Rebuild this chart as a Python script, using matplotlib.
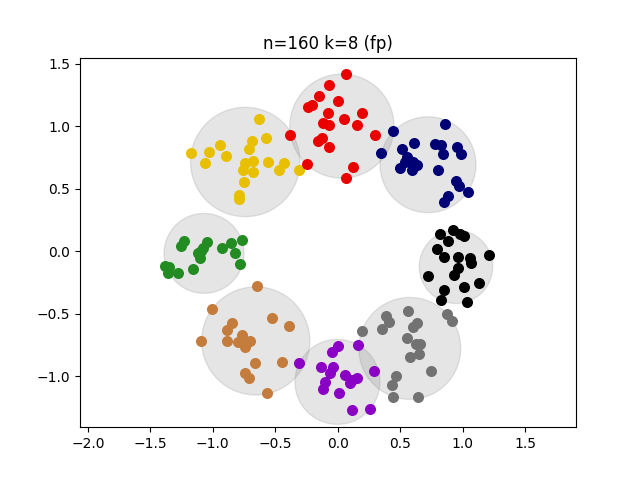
import matplotlib
matplotlib.use("Agg")
import matplotlib.pyplot as plt
import numpy as np

# cluster points
yellow_x = [-0.630, -1.175, -1.028, -0.942, -1.062, -0.897, -0.689, -0.710, -0.574, -0.742,
            -0.676, -0.756, -0.676, -0.560, -0.428, -0.468, -0.310, -0.748, -0.790, -0.790]
yellow_y = [1.059, 0.784, 0.797, 0.851, 0.709, 0.763, 0.885, 0.821, 0.907, 0.704,
            0.720, 0.648, 0.632, 0.717, 0.709, 0.648, 0.648, 0.554, 0.450, 0.418]

red_x = [0.066, -0.067, -0.152, -0.235, -0.208, 0.000, -0.075, 0.192, 0.053, 0.157,
         -0.115, -0.070, 0.299, -0.382, -0.128, -0.155, -0.067, -0.248, 0.120, 0.066]
red_y = [1.420, 1.329, 1.241, 1.158, 1.169, 1.206, 1.105, 1.105, 1.059, 1.011,
         1.030, 1.009, 0.933, 0.933, 0.905, 0.885, 0.837, 0.699, 0.672, 0.589]

navy_x = [0.859, 0.445, 0.347, 0.613, 0.512, 0.779, 0.825, 0.841, 0.953, 0.985, 0.552,
          0.539, 0.605, 0.633, 0.499, 0.592, 0.805, 0.947, 0.974, 1.041, 0.886, 0.851]
navy_y = [1.017, 0.963, 0.789, 0.865, 0.817, 0.857, 0.851, 0.776, 0.833, 0.776, 0.757,
          0.717, 0.717, 0.691, 0.664, 0.651, 0.648, 0.565, 0.522, 0.474, 0.445, 0.392]

black_x = [0.819, 0.926, 0.979, 1.014, 0.881, 0.793, 0.851, 0.961, 1.059, 1.067,
           1.214, 0.961, 0.934, 0.721, 1.134, 1.014, 0.853, 0.827, 1.033]
black_y = [0.138, 0.170, 0.135, 0.124, 0.084, 0.018, -0.044, -0.044, -0.052, -0.092,
           -0.030, -0.137, -0.191, -0.196, -0.252, -0.284, -0.311, -0.391, -0.405]

green_x = [-1.231, -1.255, -1.049, -1.076, -1.116, -1.103, -1.095, -0.924, -0.854,
           -0.769, -0.822, -0.782, -1.156, -1.383, -1.348, -1.356, -1.281]
green_y = [0.084, 0.042, 0.076, 0.028, -0.017, -0.057, 0.002, 0.023, 0.068,
           0.090, -0.017, -0.105, -0.145, -0.119, -0.124, -0.172, -0.172]

orange_x = [-0.649, -1.009, -0.528, -0.388, -0.849, -0.889, -1.094, -0.884, -0.769,
            -0.796, -0.742, -0.702, -0.742, -0.662, -0.448, -0.742, -0.710, -0.564]
orange_y = [-0.279, -0.463, -0.538, -0.597, -0.573, -0.631, -0.720, -0.717, -0.671,
            -0.725, -0.738, -0.720, -0.765, -0.893, -0.885, -0.974, -1.014, -1.139]

purple_x = [-0.307, 0.000, -0.048, 0.165, -0.134, -0.040, -0.062, -0.102, -0.115,
            0.058, 0.152, 0.098, 0.114, 0.013, 0.293, 0.112, 0.259]
purple_y = [-0.893, -0.760, -0.810, -0.752, -0.930, -0.930, -0.978, -1.046, -1.107,
            -0.992, -1.014, -1.058, -1.032, -1.134, -0.958, -1.272, -1.267]

grey_x = [0.387, 0.413, 0.357, 0.197, 0.560, 0.633, 0.600, 0.873, 0.918, 0.557,
          0.627, 0.659, 0.653, 0.579, 0.745, 0.467, 0.432, 0.445, 0.641]
grey_y = [-0.519, -0.570, -0.626, -0.637, -0.477, -0.578, -0.605, -0.503, -0.559, -0.693,
          -0.746, -0.746, -0.824, -0.845, -0.960, -1.000, -1.072, -1.166, -1.171]

# cluster centres and covering radii
center_x = [-0.740, 0.034, 0.723, 0.947, -1.070, -0.656, -0.002, 0.577]
center_y = [0.715, 1.002, 0.693, -0.124, -0.017, -0.718, -1.046, -0.778]
radius = [0.438, 0.417, 0.384, 0.294, 0.320, 0.433, 0.340, 0.408]

clusters = [
    (yellow_x, yellow_y, '#e8c000'),
    (red_x, red_y, '#eb0000'),
    (navy_x, navy_y, '#000075'),
    (black_x, black_y, 'black'),
    (green_x, green_y, '#228b22'),
    (orange_x, orange_y, '#c47c3c'),
    (purple_x, purple_y, '#8a00c4'),
    (grey_x, grey_y, '#727272'),
]

fig, ax = plt.subplots(figsize=(6.4, 4.8), dpi=100)

for cx, cy, r in zip(center_x, center_y, radius):
    ax.add_patch(plt.Circle((cx, cy), r, color='gray', alpha=0.2, zorder=1))

for xs, ys, col in clusters:
    ax.scatter(xs, ys, color=col, s=48, zorder=2)

ax.set_xlim(-2.063, 1.908)
ax.set_ylim(-1.409, 1.551)
ax.set_xticks(np.arange(-2.0, 1.51, 0.5))
ax.set_yticks(np.arange(-1.0, 1.51, 0.5))
ax.set_title('n=160 k=8 (fp)')

plt.savefig('out.png', dpi=100)
